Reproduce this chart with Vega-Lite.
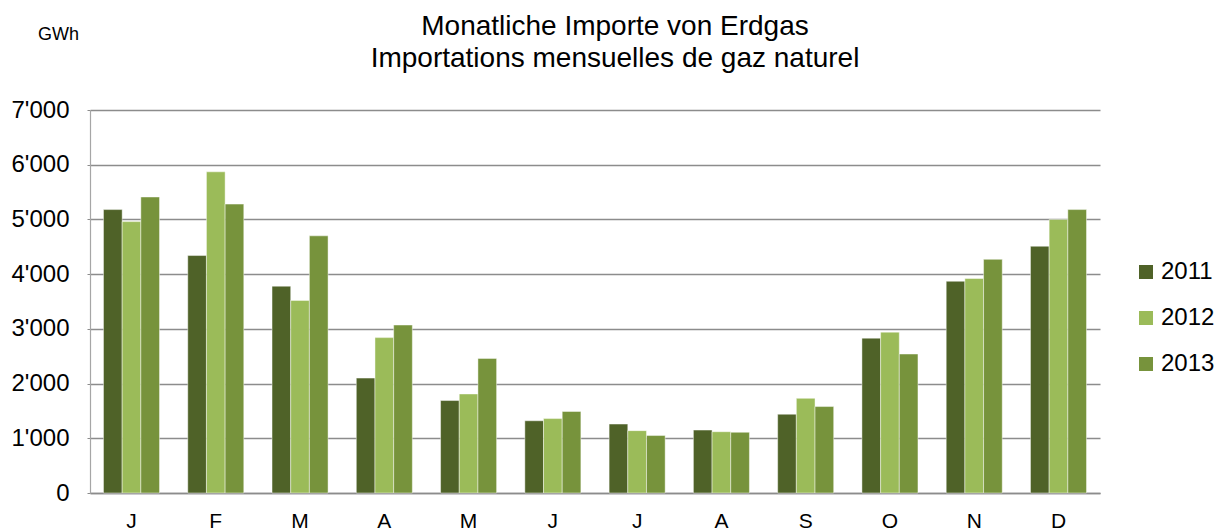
{
  "$schema": "https://vega.github.io/schema/vega-lite/v6.json",
  "autosize": {"type": "none"},
  "padding": {"left": 90, "top": 110, "right": 124, "bottom": 39},
  "width": 1010,
  "height": 383,
  "background": "white",
  "config": {"font": "Liberation Sans", "view": {"stroke": null}},
  "title": {
    "text": ["Monatliche Importe von Erdgas", "Importations mensuelles de gaz naturel"],
    "anchor": "middle",
    "frame": "group",
    "dx": 20,
    "offset": -48,
    "fontSize": 28,
    "fontWeight": "normal",
    "color": "#000000",
    "lineHeight": 32,
    "font": "Liberation Sans"
  },
  "data": {
    "values": [
      {"month": "Jan", "year": "2011", "value": 5180},
      {"month": "Jan", "year": "2012", "value": 4960},
      {"month": "Jan", "year": "2013", "value": 5410},
      {"month": "Feb", "year": "2011", "value": 4340},
      {"month": "Feb", "year": "2012", "value": 5870},
      {"month": "Feb", "year": "2013", "value": 5280},
      {"month": "Mär", "year": "2011", "value": 3780},
      {"month": "Mär", "year": "2012", "value": 3520},
      {"month": "Mär", "year": "2013", "value": 4700},
      {"month": "Apr", "year": "2011", "value": 2100},
      {"month": "Apr", "year": "2012", "value": 2840},
      {"month": "Apr", "year": "2013", "value": 3070},
      {"month": "Mai", "year": "2011", "value": 1690},
      {"month": "Mai", "year": "2012", "value": 1810},
      {"month": "Mai", "year": "2013", "value": 2460},
      {"month": "Jun", "year": "2011", "value": 1320},
      {"month": "Jun", "year": "2012", "value": 1360},
      {"month": "Jun", "year": "2013", "value": 1490},
      {"month": "Jul", "year": "2011", "value": 1260},
      {"month": "Jul", "year": "2012", "value": 1140},
      {"month": "Jul", "year": "2013", "value": 1050},
      {"month": "Aug", "year": "2011", "value": 1150},
      {"month": "Aug", "year": "2012", "value": 1120},
      {"month": "Aug", "year": "2013", "value": 1110},
      {"month": "Sep", "year": "2011", "value": 1440},
      {"month": "Sep", "year": "2012", "value": 1730},
      {"month": "Sep", "year": "2013", "value": 1580},
      {"month": "Okt", "year": "2011", "value": 2830},
      {"month": "Okt", "year": "2012", "value": 2940},
      {"month": "Okt", "year": "2013", "value": 2540},
      {"month": "Nov", "year": "2011", "value": 3870},
      {"month": "Nov", "year": "2012", "value": 3920},
      {"month": "Nov", "year": "2013", "value": 4270},
      {"month": "Dez", "year": "2011", "value": 4510},
      {"month": "Dez", "year": "2012", "value": 5000},
      {"month": "Dez", "year": "2013", "value": 5180}
    ]
  },
  "mark": {"type": "bar", "stroke": "#ffffff", "strokeOpacity": 0.45, "strokeWidth": 1},
  "encoding": {
    "x": {
      "field": "month",
      "type": "nominal",
      "sort": ["Jan", "Feb", "Mär", "Apr", "Mai", "Jun", "Jul", "Aug", "Sep", "Okt", "Nov", "Dez"],
      "scale": {"paddingInner": 0.335, "paddingOuter": 0.16},
      "axis": {
        "title": null,
        "labelAngle": 0,
        "labelExpr": "substring(datum.label, 0, 1)",
        "labelFontSize": 21,
        "labelColor": "#000000",
        "labelPadding": 17,
        "ticks": false,
        "domainColor": "#8c8c8c",
        "domainWidth": 1.5
      }
    },
    "xOffset": {
      "field": "year",
      "type": "nominal",
      "scale": {"paddingInner": 0, "paddingOuter": 0}
    },
    "y": {
      "field": "value",
      "type": "quantitative",
      "scale": {"domain": [0, 7000], "nice": false},
      "axis": {
        "values": [0, 1000, 2000, 3000, 4000, 5000, 6000, 7000],
        "labelExpr": "replace(format(datum.value, ','), ',', \"'\")",
        "labelFontSize": 24,
        "labelColor": "#000000",
        "labelPadding": 18,
        "tickSize": 3,
        "tickColor": "#8c8c8c",
        "domainColor": "#a6a6a6",
        "domainWidth": 1.2,
        "gridColor": "#8c8c8c",
        "gridWidth": 1.5,
        "title": "GWh",
        "titleAngle": 0,
        "titleAlign": "center",
        "titleBaseline": "middle",
        "titleX": -32,
        "titleY": -76,
        "titleFontSize": 18,
        "titleFontWeight": "normal",
        "titleColor": "#000000"
      }
    },
    "color": {
      "field": "year",
      "type": "nominal",
      "scale": {"domain": ["2011", "2012", "2013"], "range": ["#4f6228", "#9bbb59", "#77933c"]},
      "legend": {
        "title": null,
        "orient": "none",
        "legendX": 1044,
        "legendY": 150,
        "symbolType": "square",
        "symbolSize": 196,
        "symbolStrokeWidth": 0,
        "labelFontSize": 24,
        "labelColor": "#000000",
        "labelOffset": 3,
        "rowPadding": 22,
        "padding": 0
      }
    }
  }
}
